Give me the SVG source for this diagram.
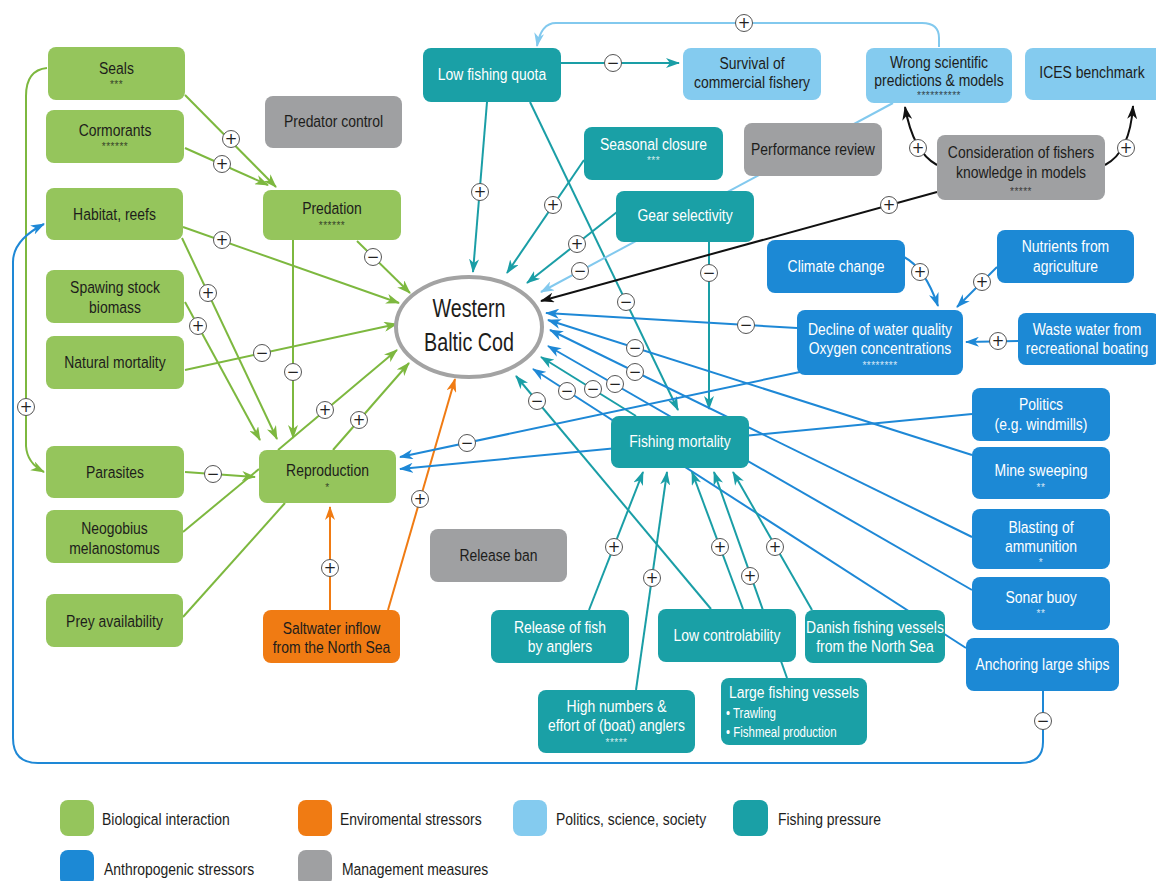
<svg xmlns="http://www.w3.org/2000/svg" width="1156" height="881" viewBox="0 0 1156 881">
<style>
.node rect{rx:8px;ry:8px}
.bio rect{fill:#95c55c}
.env rect{fill:#f07b13}
.pol rect{fill:#84cbef}
.fish rect{fill:#1aa0a6}
.anth rect{fill:#1c89d5}
.mgmt rect{fill:#9fa0a2}
text{font-family:"Liberation Sans Narrow","Liberation Sans",Arial,sans-serif;font-size:17px;text-anchor:middle}
.bio text,.env text,.pol text,.mgmt text,.leg text{fill:#1d1d1b}
.fish text,.anth text{fill:#ffffff}
text.st{font-size:10px;letter-spacing:0.5px;opacity:0.8}
text.sm{font-size:14px;text-anchor:start}
.leg text{text-anchor:start}
.cn path{fill:none;stroke-width:2}
.gr{stroke:#7db83f}
.te{stroke:#1a9ea6}
.bl{stroke:#1e88d6}
.lb{stroke:#82c9ee}
.or{stroke:#f07b13}
.bk{stroke:#111111}
.sg circle{fill:#fff;stroke:#555;stroke-width:1}
.sg text{font-family:"DejaVu Sans",sans-serif;font-size:15px;fill:#222;dominant-baseline:central}
</style>
<defs>
<marker id="ag" viewBox="0 0 14 10" refX="13" refY="5" markerWidth="14" markerHeight="10" markerUnits="userSpaceOnUse" orient="auto"><path d="M0,0 L14,5 L0,10 L4,5 Z" fill="#7db83f"/></marker>
<marker id="at" viewBox="0 0 14 10" refX="13" refY="5" markerWidth="14" markerHeight="10" markerUnits="userSpaceOnUse" orient="auto"><path d="M0,0 L14,5 L0,10 L4,5 Z" fill="#1a9ea6"/></marker>
<marker id="ab" viewBox="0 0 14 10" refX="13" refY="5" markerWidth="14" markerHeight="10" markerUnits="userSpaceOnUse" orient="auto"><path d="M0,0 L14,5 L0,10 L4,5 Z" fill="#1e88d6"/></marker>
<marker id="alb" viewBox="0 0 14 10" refX="13" refY="5" markerWidth="14" markerHeight="10" markerUnits="userSpaceOnUse" orient="auto"><path d="M0,0 L14,5 L0,10 L4,5 Z" fill="#82c9ee"/></marker>
<marker id="ao" viewBox="0 0 14 10" refX="13" refY="5" markerWidth="14" markerHeight="10" markerUnits="userSpaceOnUse" orient="auto"><path d="M0,0 L14,5 L0,10 L4,5 Z" fill="#f07b13"/></marker>
<marker id="ak" viewBox="0 0 14 10" refX="13" refY="5" markerWidth="14" markerHeight="10" markerUnits="userSpaceOnUse" orient="auto"><path d="M0,0 L14,5 L0,10 L4,5 Z" fill="#111111"/></marker>
</defs>
<rect width="1156" height="881" fill="#ffffff"/>

<g id="connectors" class="cn">
<path class="gr" d="M185,95 L276,187" marker-end="url(#ag)"/>
<path class="gr" d="M185,148 L268,185" marker-end="url(#ag)"/>
<path class="gr" d="M183,227 L399,303" marker-end="url(#ag)"/>
<path class="gr" d="M182,238 L277,439" marker-end="url(#ag)"/>
<path class="gr" d="M185,302 L260,440" marker-end="url(#ag)"/>
<path class="gr" d="M185,370 L397,324" marker-end="url(#ag)"/>
<path class="gr" d="M293,240 L293,438" marker-end="url(#ag)"/>
<path class="gr" d="M357,241 L410,293" marker-end="url(#ag)"/>
<path class="gr" d="M278,450 L397,350" marker-end="url(#ag)"/>
<path class="gr" d="M333,450 L409,363" marker-end="url(#ag)"/>
<path class="gr" d="M185,472 L255,477" marker-end="url(#ag)"/>
<path class="gr" d="M183,532 L259,469"/>
<path class="gr" d="M183,617 L285,503"/>
<path class="gr" d="M47,68 Q26,70 26,96 L26,446 Q27,463 44,472" marker-end="url(#ag)"/>
<path class="or" d="M330,610 L330,507" marker-end="url(#ao)"/>
<path class="or" d="M388,610 L455,379" marker-end="url(#ao)"/>
<path class="bl" d="M1043,691 L1043,742 Q1043,763 1020,763 L38,763 Q13,763 13,738 L13,262 Q13,240 44,224" marker-end="url(#ab)"/>
<path class="te" d="M487,102 L473,272" marker-end="url(#at)"/>
<path class="te" d="M530,102 L678,410" marker-end="url(#at)"/>
<path class="te" d="M561,63 L679,63" marker-end="url(#at)"/>
<path class="te" d="M584,160 L507,273" marker-end="url(#at)"/>
<path class="te" d="M617,212 L527,283" marker-end="url(#at)"/>
<path class="te" d="M709,242 L709,409" marker-end="url(#at)"/>
<path class="lb" d="M893,103 L541,292" marker-end="url(#alb)"/>
<path class="lb" d="M939,47 L939,38 Q939,23 922,23 L556,23 Q541,23 537,46" marker-end="url(#alb)"/>
<path class="bk" d="M937,192 L541,301" marker-end="url(#ak)"/>
<path class="bk" d="M937,165 Q913,152 905,107" marker-end="url(#ak)"/>
<path class="bk" d="M1105,165 Q1130,152 1133,106" marker-end="url(#ak)"/>
<path class="bl" d="M797,328 L546,313" marker-end="url(#ab)"/>
<path class="bl" d="M972,455 L548,320" marker-end="url(#ab)"/>
<path class="bl" d="M972,537 L550,330" marker-end="url(#ab)"/>
<path class="bl" d="M972,590 L548,346" marker-end="url(#ab)"/>
<path class="bl" d="M966,648 L533,369" marker-end="url(#ab)"/>
<path class="te" d="M636,416 L541,357" marker-end="url(#at)"/>
<path class="te" d="M711,609 L516,376" marker-end="url(#at)"/>
<path class="bl" d="M800,372 L400,457" marker-end="url(#ab)"/>
<path class="bl" d="M972,414 L400,469" marker-end="url(#ab)"/>
<path class="bl" d="M904,257 Q925,268 938,306" marker-end="url(#ab)"/>
<path class="bl" d="M997,267 L957,307" marker-end="url(#ab)"/>
<path class="bl" d="M1018,341 L966,342" marker-end="url(#ab)"/>
<path class="te" d="M589,610 L643,472" marker-end="url(#at)"/>
<path class="te" d="M636,690 L667,472" marker-end="url(#at)"/>
<path class="te" d="M743,609 L692,472" marker-end="url(#at)"/>
<path class="te" d="M787,678 L714,472" marker-end="url(#at)"/>
<path class="te" d="M812,610 L733,472" marker-end="url(#at)"/>

<g class="sg" transform="translate(231,139)"><circle r="8.5"/><text>+</text></g>
<g class="sg" transform="translate(222,164)"><circle r="8.5"/><text>+</text></g>
<g class="sg" transform="translate(222,240)"><circle r="8.5"/><text>+</text></g>
<g class="sg" transform="translate(208,293)"><circle r="8.5"/><text>+</text></g>
<g class="sg" transform="translate(198,326)"><circle r="8.5"/><text>+</text></g>
<g class="sg" transform="translate(262,353)"><circle r="8.5"/><text>−</text></g>
<g class="sg" transform="translate(293,372)"><circle r="8.5"/><text>−</text></g>
<g class="sg" transform="translate(373,257)"><circle r="8.5"/><text>−</text></g>
<g class="sg" transform="translate(325,410)"><circle r="8.5"/><text>+</text></g>
<g class="sg" transform="translate(359,420)"><circle r="8.5"/><text>+</text></g>
<g class="sg" transform="translate(213,474)"><circle r="8.5"/><text>−</text></g>
<g class="sg" transform="translate(26,407)"><circle r="8.5"/><text>+</text></g>
<g class="sg" transform="translate(330,568)"><circle r="8.5"/><text>+</text></g>
<g class="sg" transform="translate(420,499)"><circle r="8.5"/><text>+</text></g>
<g class="sg" transform="translate(1043,721)"><circle r="8.5"/><text>−</text></g>
<g class="sg" transform="translate(480,192)"><circle r="8.5"/><text>+</text></g>
<g class="sg" transform="translate(626,302)"><circle r="8.5"/><text>−</text></g>
<g class="sg" transform="translate(613,63)"><circle r="8.5"/><text>−</text></g>
<g class="sg" transform="translate(553,205)"><circle r="8.5"/><text>+</text></g>
<g class="sg" transform="translate(577,244)"><circle r="8.5"/><text>+</text></g>
<g class="sg" transform="translate(709,273)"><circle r="8.5"/><text>−</text></g>
<g class="sg" transform="translate(580,271)"><circle r="8.5"/><text>−</text></g>
<g class="sg" transform="translate(744,23)"><circle r="8.5"/><text>+</text></g>
<g class="sg" transform="translate(889,205)"><circle r="8.5"/><text>+</text></g>
<g class="sg" transform="translate(918,148)"><circle r="8.5"/><text>+</text></g>
<g class="sg" transform="translate(1126,148)"><circle r="8.5"/><text>+</text></g>
<g class="sg" transform="translate(746,325)"><circle r="8.5"/><text>−</text></g>
<g class="sg" transform="translate(635,348)"><circle r="8.5"/><text>−</text></g>
<g class="sg" transform="translate(635,372)"><circle r="8.5"/><text>−</text></g>
<g class="sg" transform="translate(615,384)"><circle r="8.5"/><text>−</text></g>
<g class="sg" transform="translate(567,391)"><circle r="8.5"/><text>−</text></g>
<g class="sg" transform="translate(593,389)"><circle r="8.5"/><text>−</text></g>
<g class="sg" transform="translate(537,401)"><circle r="8.5"/><text>−</text></g>
<g class="sg" transform="translate(467,443)"><circle r="8.5"/><text>−</text></g>
<g class="sg" transform="translate(920,272)"><circle r="8.5"/><text>+</text></g>
<g class="sg" transform="translate(982,282)"><circle r="8.5"/><text>+</text></g>
<g class="sg" transform="translate(998,341)"><circle r="8.5"/><text>+</text></g>
<g class="sg" transform="translate(614,547)"><circle r="8.5"/><text>+</text></g>
<g class="sg" transform="translate(652,578)"><circle r="8.5"/><text>+</text></g>
<g class="sg" transform="translate(720,547)"><circle r="8.5"/><text>+</text></g>
<g class="sg" transform="translate(750,576)"><circle r="8.5"/><text>+</text></g>
<g class="sg" transform="translate(775,547)"><circle r="8.5"/><text>+</text></g>
</g>

<g id="n-seals" class="node bio"><rect x="48" y="47" width="137" height="53"/><text transform="translate(116.5,74) scale(0.82,1)">Seals</text><text class="st" x="116.5" y="88">***</text></g>
<g id="n-cormorants" class="node bio"><rect x="46" y="110" width="138" height="53"/><text transform="translate(115,136) scale(0.82,1)">Cormorants</text><text class="st" x="115" y="150">******</text></g>
<g id="n-habitat" class="node bio"><rect x="46" y="188" width="137" height="52"/><text transform="translate(114.5,220) scale(0.82,1)">Habitat, reefs</text></g>
<g id="n-ssb" class="node bio"><rect x="46" y="270" width="138" height="53"/><text transform="translate(115,293) scale(0.82,1)">Spawing stock</text><text transform="translate(115,313) scale(0.82,1)">biomass</text></g>
<g id="n-natmort" class="node bio"><rect x="46" y="336" width="138" height="53"/><text transform="translate(115,368) scale(0.82,1)">Natural mortality</text></g>
<g id="n-parasites" class="node bio"><rect x="46" y="446" width="138" height="52"/><text transform="translate(115,478) scale(0.82,1)">Parasites</text></g>
<g id="n-neogobius" class="node bio"><rect x="46" y="510" width="137" height="53"/><text transform="translate(114.5,534) scale(0.82,1)">Neogobius</text><text transform="translate(114.5,554) scale(0.82,1)">melanostomus</text></g>
<g id="n-prey" class="node bio"><rect x="46" y="594" width="137" height="53"/><text transform="translate(114.5,627) scale(0.82,1)">Prey availability</text></g>
<g id="n-predation" class="node bio"><rect x="263" y="190" width="138" height="50"/><text transform="translate(332,214) scale(0.82,1)">Predation</text><text class="st" x="332" y="229">******</text></g>
<g id="n-reproduction" class="node bio"><rect x="259" y="450" width="137" height="53"/><text transform="translate(327.5,476) scale(0.82,1)">Reproduction</text><text class="st" x="327.5" y="491">*</text></g>

<g id="n-predator-control" class="node mgmt"><rect x="265" y="96" width="137" height="52"/><text transform="translate(333.5,127) scale(0.82,1)">Predator control</text></g>
<g id="n-release-ban" class="node mgmt"><rect x="430" y="529" width="137" height="53"/><text transform="translate(498.5,561) scale(0.82,1)">Release ban</text></g>
<g id="n-performance" class="node mgmt"><rect x="744" y="123" width="138" height="53"/><text transform="translate(813,155) scale(0.82,1)">Performance review</text></g>
<g id="n-consideration" class="node mgmt"><rect x="937" y="135" width="168" height="65"/><text transform="translate(1021,158) scale(0.82,1)">Consideration of fishers</text><text transform="translate(1021,178) scale(0.82,1)">knowledge in models</text><text class="st" x="1021" y="195">*****</text></g>

<g id="n-saltwater" class="node env"><rect x="263" y="610" width="137" height="53"/><text transform="translate(331.5,634) scale(0.82,1)">Saltwater inflow</text><text transform="translate(331.5,653) scale(0.82,1)">from the North Sea</text></g>

<g id="n-survival" class="node pol"><rect x="683" y="48" width="138" height="52"/><text transform="translate(752,69) scale(0.82,1)">Survival of</text><text transform="translate(752,88) scale(0.82,1)">commercial fishery</text></g>
<g id="n-wrong" class="node pol"><rect x="866" y="48" width="146" height="55"/><text transform="translate(939,68) scale(0.82,1)">Wrong scientific</text><text transform="translate(939,86) scale(0.82,1)">predictions &amp; models</text><text class="st" x="939" y="99">**********</text></g>
<g id="n-ices" class="node pol"><rect x="1025" y="48" width="140" height="52"/><text transform="translate(1092,78) scale(0.82,1)">ICES benchmark</text></g>

<g id="n-low-quota" class="node fish"><rect x="423" y="48" width="138" height="54"/><text transform="translate(492,80) scale(0.82,1)">Low fishing quota</text></g>
<g id="n-seasonal" class="node fish"><rect x="584" y="127" width="139" height="53"/><text transform="translate(653.5,150) scale(0.82,1)">Seasonal closure</text><text class="st" x="653.5" y="164">***</text></g>
<g id="n-gear" class="node fish"><rect x="616" y="191" width="138" height="51"/><text transform="translate(685,221) scale(0.82,1)">Gear selectivity</text></g>
<g id="n-fishing-mortality" class="node fish"><rect x="611" y="416" width="138" height="52"/><text transform="translate(680,447) scale(0.82,1)">Fishing mortality</text></g>
<g id="n-release-fish" class="node fish"><rect x="491" y="610" width="138" height="53"/><text transform="translate(560,633) scale(0.82,1)">Release of fish</text><text transform="translate(560,652) scale(0.82,1)">by anglers</text></g>
<g id="n-low-control" class="node fish"><rect x="658" y="609" width="138" height="53"/><text transform="translate(727,641) scale(0.82,1)">Low controlability</text></g>
<g id="n-danish" class="node fish"><rect x="805" y="610" width="140" height="53"/><text transform="translate(875,633) scale(0.82,1)">Danish fishing vessels</text><text transform="translate(875,652) scale(0.82,1)">from the North Sea</text></g>
<g id="n-high-numbers" class="node fish"><rect x="538" y="690" width="157" height="63"/><text transform="translate(616.5,712) scale(0.82,1)">High numbers &amp;</text><text transform="translate(616.5,731) scale(0.82,1)">effort of (boat) anglers</text><text class="st" x="616.5" y="746">*****</text></g>
<g id="n-large-vessels" class="node fish"><rect x="721" y="678" width="146" height="67"/><text transform="translate(794,698) scale(0.82,1)">Large fishing vessels</text><text class="sm" transform="translate(726,718) scale(0.82,1)">• Trawling</text><text class="sm" transform="translate(726,737) scale(0.82,1)">• Fishmeal production</text></g>

<g id="n-climate" class="node anth"><rect x="767" y="240" width="138" height="53"/><text transform="translate(836,272) scale(0.82,1)">Climate change</text></g>
<g id="n-nutrients" class="node anth"><rect x="997" y="230" width="137" height="53"/><text transform="translate(1065.5,252) scale(0.82,1)">Nutrients from</text><text transform="translate(1065.5,272) scale(0.82,1)">agriculture</text></g>
<g id="n-decline" class="node anth"><rect x="797" y="310" width="166" height="65"/><text transform="translate(880,335) scale(0.82,1)">Decline of water quality</text><text transform="translate(880,354) scale(0.82,1)">Oxygen concentrations</text><text class="st" x="880" y="369">********</text></g>
<g id="n-waste" class="node anth"><rect x="1018" y="313" width="142" height="52"/><text transform="translate(1087,335) scale(0.82,1)">Waste water from</text><text transform="translate(1087,354) scale(0.82,1)">recreational boating</text></g>
<g id="n-politics" class="node anth"><rect x="972" y="388" width="138" height="53"/><text transform="translate(1041,410) scale(0.82,1)">Politics</text><text transform="translate(1041,430) scale(0.82,1)">(e.g. windmills)</text></g>
<g id="n-mine" class="node anth"><rect x="972" y="447" width="138" height="52"/><text transform="translate(1041,476) scale(0.82,1)">Mine sweeping</text><text class="st" x="1041" y="491">**</text></g>
<g id="n-blasting" class="node anth"><rect x="972" y="509" width="138" height="60"/><text transform="translate(1041,533) scale(0.82,1)">Blasting of</text><text transform="translate(1041,552) scale(0.82,1)">ammunition</text><text class="st" x="1041" y="566">*</text></g>
<g id="n-sonar" class="node anth"><rect x="972" y="577" width="138" height="53"/><text transform="translate(1041,603) scale(0.82,1)">Sonar buoy</text><text class="st" x="1041" y="617">**</text></g>
<g id="n-anchoring" class="node anth"><rect x="966" y="638" width="153" height="53"/><text transform="translate(1042.5,670) scale(0.82,1)">Anchoring large ships</text></g>

<g id="n-cod" class="node"><ellipse cx="469" cy="327" rx="73" ry="50" fill="#ffffff" stroke="#a3a3a3" stroke-width="4"/><text transform="translate(469,317) scale(0.76,1)" style="font-size:26px;fill:#1d1d1b">Western</text><text transform="translate(469,351) scale(0.76,1)" style="font-size:26px;fill:#1d1d1b">Baltic Cod</text></g>

<g id="legend" class="leg">
<rect x="60" y="800" width="34" height="36" rx="8" fill="#95c55c"/><text transform="translate(102,825) scale(0.82,1)">Biological interaction</text>
<rect x="298" y="800" width="34" height="36" rx="8" fill="#f07b13"/><text transform="translate(340,825) scale(0.82,1)">Enviromental stressors</text>
<rect x="513" y="800" width="34" height="36" rx="8" fill="#84cbef"/><text transform="translate(556,825) scale(0.82,1)">Politics, science, society</text>
<rect x="733" y="800" width="35" height="36" rx="8" fill="#1aa0a6"/><text transform="translate(778,825) scale(0.82,1)">Fishing pressure</text>
<rect x="60" y="850" width="34" height="36" rx="8" fill="#1c89d5"/><text transform="translate(104,875) scale(0.82,1)">Anthropogenic stressors</text>
<rect x="298" y="850" width="34" height="36" rx="8" fill="#9fa0a2"/><text transform="translate(342,875) scale(0.82,1)">Management measures</text>
</g>
</svg>
